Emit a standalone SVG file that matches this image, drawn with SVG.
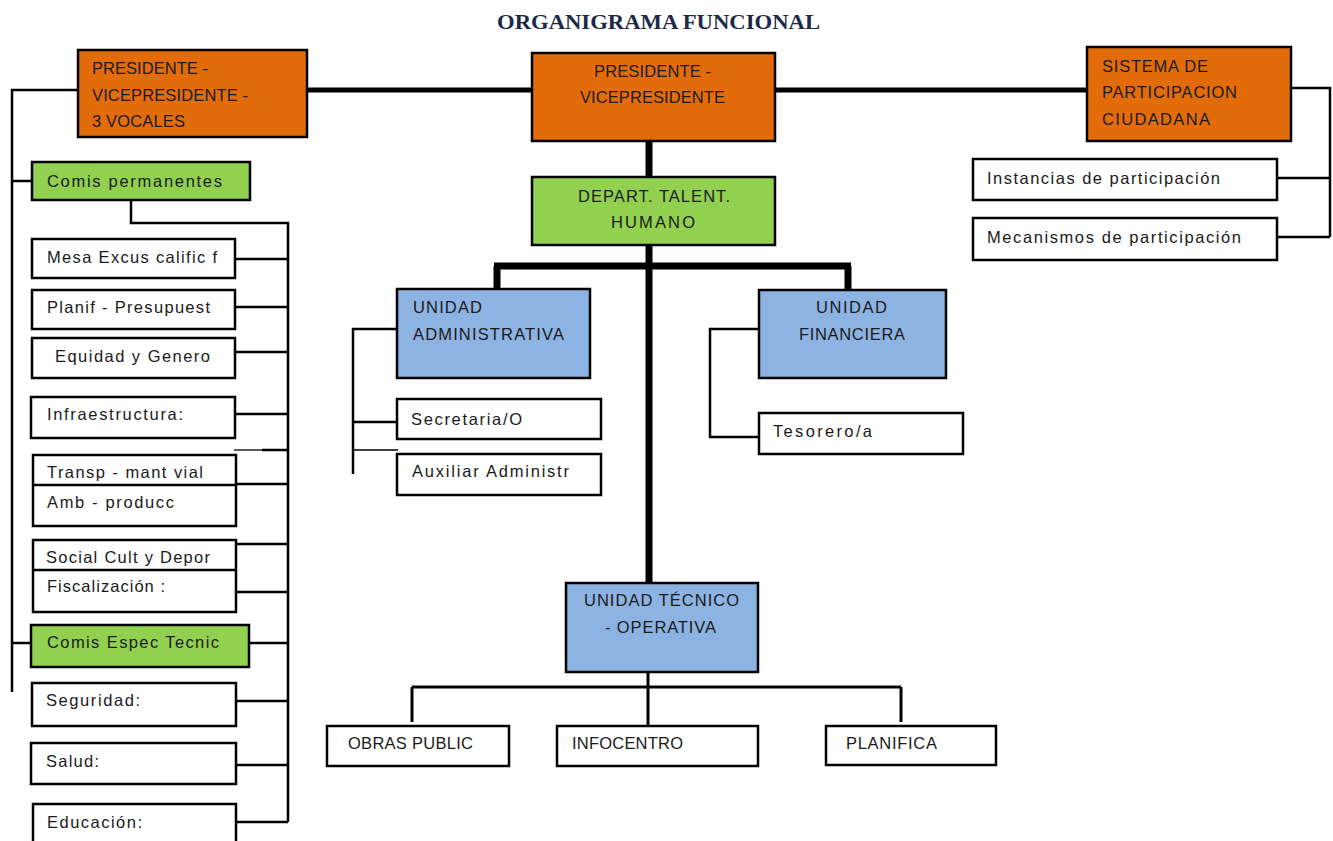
<svg xmlns="http://www.w3.org/2000/svg" width="1333" height="841" viewBox="0 0 1333 841">
<style>
.box{stroke:#000;stroke-width:2.5}
.w{fill:#fff}.o{fill:#E36C0A}.g{fill:#92D050}.b{fill:#8DB3E2}
text{font-family:"Liberation Sans",Arial,sans-serif;font-size:16.5px;fill:#1a1a1a}
.c{fill:none;stroke:#000;stroke-width:2.5}
.k{fill:none;stroke:#000;stroke-width:5}
.kk{fill:none;stroke:#000;stroke-width:7}
.t{fill:none;stroke:#000;stroke-width:1.3}
.title{font-family:"Liberation Serif","Times New Roman",serif;font-weight:bold;font-size:20px;fill:#1c2a48}
</style>
<rect width="1333" height="841" fill="#fff"/>
<text class="title" x="497" y="29" textLength="323" lengthAdjust="spacingAndGlyphs">ORGANIGRAMA FUNCIONAL</text>
<g id="connectors">
<path class="k" d="M307,90 H533 M775,90 H1087"/>
<path class="kk" d="M649,141 V177 M649,245 V583"/>
<path class="kk" d="M494,266 H851 M497,266 V289 M848,266 V290"/>
<path class="c" d="M78,90 H12 V692 M12,181 H32 M12,643 H31"/>
<path class="c" d="M131,200 V223 H288 V822"/>
<path class="c" d="M235,259 H288 M235,307 H288 M235,352 H288 M235,414 H288 M236,484 H288 M236,544 H288 M236,592 H288 M249,643 H288 M236,701 H288 M236,765 H288 M236,822 H288"/>
<path class="t" d="M234,450 H262"/>
<path class="c" d="M262,450 H288"/>
<path class="c" d="M1291,88 H1330 V237 M1277,178 H1330 M1277,237 H1330"/>
<path class="c" d="M397,329 H353 V474 M353,422 H397"/>
<path class="t" d="M353,450 H398"/>
<path class="c" d="M759,329 H710 V437 H759"/>
<path class="c" d="M648,672 V726 M412,687 H901 M412,687 V722 M901,687 V722" style="stroke-width:3"/>
</g>
<g id="n_presidente_vocales"><rect class="box o" x="78" y="50" width="229" height="87"/>
<text x="92" y="74" textLength="116">PRESIDENTE -</text><text x="92" y="101" textLength="156">VICEPRESIDENTE -</text><text x="92" y="127" textLength="93">3 VOCALES</text></g>
<g id="n_presidente"><rect class="box o" x="532" y="53" width="243" height="88"/>
<text x="594" y="77" textLength="117">PRESIDENTE -</text><text x="580" y="103" textLength="145">VICEPRESIDENTE</text></g>
<g id="n_sistema"><rect class="box o" x="1087" y="47" width="204" height="94"/>
<text x="1102" y="72" textLength="106">SISTEMA DE</text><text x="1102" y="98" textLength="135">PARTICIPACION</text><text x="1102" y="125" textLength="108">CIUDADANA</text></g>
<g id="n_instancias"><rect class="box w" x="973" y="159" width="304" height="41"/><text x="987" y="184" textLength="233">Instancias de participación</text></g>
<g id="n_mecanismos"><rect class="box w" x="973" y="218" width="304" height="42"/><text x="987" y="243" textLength="254">Mecanismos de participación</text></g>
<g id="n_depart"><rect class="box g" x="532" y="177" width="243" height="68"/>
<text x="578" y="202" textLength="152">DEPART. TALENT.</text><text x="611" y="228" textLength="84">HUMANO</text></g>
<g id="n_comis_perm"><rect class="box g" x="32" y="162" width="218" height="38"/><text x="47" y="187" textLength="175">Comis permanentes</text></g>
<g id="n_mesa"><rect class="box w" x="32" y="239" width="203" height="39"/><text x="47" y="263" textLength="170">Mesa Excus calific f</text></g>
<g id="n_planif"><rect class="box w" x="32" y="290" width="203" height="39"/><text x="47" y="313" textLength="163">Planif - Presupuest</text></g>
<g id="n_equidad"><rect class="box w" x="32" y="338" width="203" height="40"/><text x="55" y="362" textLength="155">Equidad y Genero</text></g>
<g id="n_infra"><rect class="box w" x="31" y="397" width="204" height="41"/><text x="47" y="420" textLength="136">Infraestructura:</text></g>
<g id="n_transp"><rect class="box w" x="33" y="455" width="203" height="71"/><path class="c" d="M33,485 H236"/>
<text x="47" y="478" textLength="156">Transp - mant vial</text><text x="47" y="508" textLength="127">Amb - producc</text></g>
<g id="n_social"><rect class="box w" x="33" y="540" width="203" height="72"/><path class="c" d="M33,570 H236"/>
<text x="46" y="563" textLength="164">Social Cult y Depor</text><text x="47" y="592" textLength="118">Fiscalización :</text></g>
<g id="n_comis_espec"><rect class="box g" x="31" y="625" width="218" height="42"/><text x="47" y="648" textLength="172">Comis  Espec Tecnic</text></g>
<g id="n_seguridad"><rect class="box w" x="32" y="683" width="204" height="43"/><text x="46" y="706" textLength="94">Seguridad:</text></g>
<g id="n_salud"><rect class="box w" x="31" y="743" width="205" height="41"/><text x="46" y="767" textLength="53">Salud:</text></g>
<g id="n_educacion"><rect class="box w" x="33" y="804" width="203" height="50"/><text x="47" y="828" textLength="95">Educación:</text></g>
<g id="n_ua"><rect class="box b" x="397" y="289" width="193" height="89"/>
<text x="413" y="313" textLength="69">UNIDAD</text><text x="413" y="340" textLength="151">ADMINISTRATIVA</text></g>
<g id="n_uf"><rect class="box b" x="759" y="290" width="187" height="88"/>
<text x="816" y="313" textLength="71">UNIDAD</text><text x="799" y="340" textLength="106">FINANCIERA</text></g>
<g id="n_secretaria"><rect class="box w" x="397" y="399" width="204" height="40"/><text x="411" y="425" textLength="111">Secretaria/O</text></g>
<g id="n_auxiliar"><rect class="box w" x="397" y="454" width="204" height="41"/><text x="412" y="477" textLength="157">Auxiliar Administr</text></g>
<g id="n_tesorero"><rect class="box w" x="759" y="413" width="204" height="41"/><text x="773" y="437" textLength="99">Tesorero/a</text></g>
<g id="n_utecnico"><rect class="box b" x="566" y="583" width="192" height="89"/>
<text x="584" y="606" textLength="155">UNIDAD TÉCNICO</text><text x="605" y="633" textLength="111">- OPERATIVA</text></g>
<g id="n_obras"><rect class="box w" x="327" y="726" width="182" height="40"/><text x="348" y="749" textLength="125">OBRAS PUBLIC</text></g>
<g id="n_infocentro"><rect class="box w" x="557" y="726" width="201" height="40"/><text x="572" y="749" textLength="111">INFOCENTRO</text></g>
<g id="n_planifica"><rect class="box w" x="826" y="726" width="170" height="39"/><text x="846" y="749" textLength="91">PLANIFICA</text></g>
</svg>
